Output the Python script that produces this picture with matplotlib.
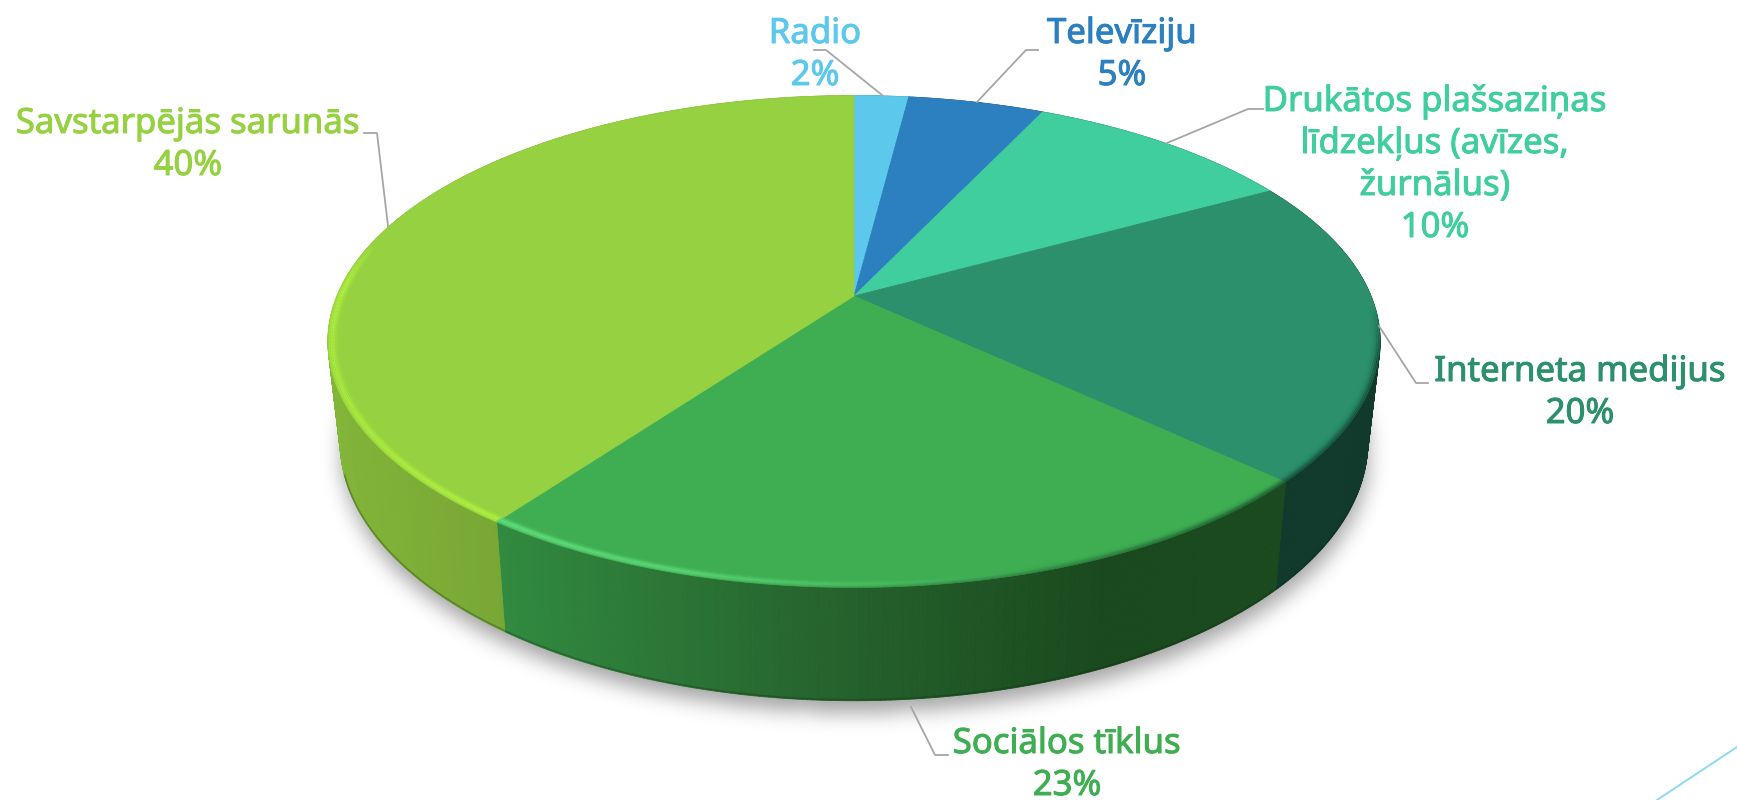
import numpy as np
import matplotlib
matplotlib.use('Agg')
import matplotlib.pyplot as plt
import matplotlib.patheffects as pe
from matplotlib.path import Path
from matplotlib.collections import PolyCollection, LineCollection
from matplotlib.colors import to_rgb

categories = ['Radio', 'Televīziju', 'Drukātos plašsaziņas\nlīdzekļus (avīzes,\nžurnālus)',
              'Interneta medijus', 'Sociālos tīklus', 'Savstarpējās sarunās']
values = [2, 5, 10, 20, 23, 40]
colors = ['#5BC8EC', '#2C80BF', '#40CE9E', '#2B906B', '#3FAE52', '#96D141']

# side shading: x pixel -> colour, left to right
side_x = [[0, 1737], [0, 1737], [0, 1737], [0, 1737], [499, 800, 1100, 1283], [340, 507]]
side_c = [['#3a8aa0', '#3a8aa0'], ['#1a5080', '#1a5080'], ['#1a6a50', '#1a6a50'], ['#113A2C', '#113A2C'],
          ['#318B40', '#27662F', '#1A491D', '#1C4A1F'], ['#82B538', '#78A735']]

label_x = [815, 1122, 1435, 1580, 1067, 188]
label_y = [43, 43, 111, 381, 753, 133]
leaders = [[(814, 50), (826, 50), (882, 95)],
           [(1038, 50), (1026, 50), (977, 102)],
           [(1263, 109), (1248, 109), (1167, 143)],
           [(1379, 326), (1416, 383), (1428, 383)],
           [(911, 707), (935, 755), (948, 755)],
           [(364, 133), (377, 133), (388, 226)]]

# pie projection, in pixels
cx, cy = 854, 296
a, b, p = 517, 237.5, 0.185
a2, b2, cy2 = 505, 250, 394


def top(theta, r=1.0):
    u, v = r * np.sin(theta), r * np.cos(theta)
    d = 1 + p * v
    return cx + a * u / d, cy - b * v / d


def low(theta):
    u, v = np.sin(theta), np.cos(theta)
    d = 1 + p * v
    return cx + a2 * u / d, cy2 - b2 * v / d


fig = plt.figure(figsize=(17.37, 8), dpi=100)
ax = fig.add_axes([0, 0, 1, 1])
ax.set_xlim(0, 1737)
ax.set_ylim(800, 0)
ax.axis('off')

# shadow under the pie
t = np.linspace(0, 2 * np.pi, 400)
lx, ly = low(t)
step = 3
gx, gy = np.meshgrid(np.arange(0, 1737, step), np.arange(0, 800, step))
mask = Path(np.c_[lx, ly + 11]).contains_points(np.c_[gx.ravel(), gy.ravel()]).reshape(gx.shape).astype(float)
kx = np.arange(-15, 16)
kern = np.exp(-(kx * step) ** 2 / (2 * 10.0 ** 2))
kern /= kern.sum()
mask = np.apply_along_axis(lambda m: np.convolve(m, kern, mode='same'), 0, mask)
mask = np.apply_along_axis(lambda m: np.convolve(m, kern, mode='same'), 1, mask)
rgba = np.zeros(mask.shape + (4,))
rgba[..., 3] = mask * 0.36
ax.imshow(rgba, extent=(0, 1737, 800, 0), interpolation='bilinear', zorder=1, aspect='auto')
ax.set_xlim(0, 1737)
ax.set_ylim(800, 0)

edges = np.cumsum([0] + values) / 100 * 2 * np.pi

# sides
for i in range(len(values)):
    th = np.linspace(edges[i], edges[i + 1], max(int(values[i] * 8), 4))
    tx, ty = top(th)
    bx, by = low(th)
    polys, fc = [], []
    rgb = np.array([to_rgb(c) for c in side_c[i]])
    for k in range(len(th) - 1):
        polys.append([(tx[k], ty[k]), (tx[k + 1], ty[k + 1]), (bx[k + 1], by[k + 1]), (bx[k], by[k])])
        xm = (bx[k] + bx[k + 1]) / 2
        fc.append([np.interp(xm, side_x[i], rgb[:, j]) for j in range(3)])
    ax.add_collection(PolyCollection(polys, facecolors=fc, edgecolors=fc, linewidths=0.6, zorder=2))

# dark bottom edge of the side
th = np.linspace(np.pi * 0.62, np.pi * 1.4, 200)
bx, by = low(th)
ax.plot(bx, by - 1, color='#0c2a12', alpha=0.3, lw=1.2, zorder=3)

# top faces
for i in range(len(values)):
    th = np.linspace(edges[i], edges[i + 1], max(int(values[i] * 8), 4))
    tx, ty = top(th)
    ax.fill(np.r_[cx, tx], np.r_[cy, ty], color=colors[i], lw=0.5, zorder=4)

# bevel on the rim: soft bright band, dark on the right
deg = np.linspace(90, 290, 600)
th = np.radians(deg)
hi = np.where(deg < 216, '#62E07E', '#B2F43F')
strength = np.interp(deg, [160, 195, 216, 216.01, 255, 272, 284], [0, 0.7, 1, 0.9, 0.8, 1, 0])
dark = np.interp(deg, [92, 105, 135, 160, 195], [0, 0.75, 0.6, 0.25, 0])
for r in np.arange(0.976, 1.001, 0.003):
    x, y = top(th, r)
    segs = [[(x[k], y[k]), (x[k + 1], y[k + 1])] for k in range(len(x) - 1)]
    w = np.exp(-((r - 0.992) / 0.005) ** 2 / 2)
    rc = [(*to_rgb(hi[k]), float(strength[k] * w)) for k in range(len(x) - 1)]
    ax.add_collection(LineCollection(segs, colors=rc, linewidths=1.0, zorder=5))
    w = np.exp(-((r - 1.0) / 0.006) ** 2 / 2)
    dc = [(0.03, 0.16, 0.12, float(dark[k] * w)) for k in range(len(x) - 1)]
    ax.add_collection(LineCollection(segs, colors=dc, linewidths=1.0, zorder=5))

# leader lines
for pts in leaders:
    ax.plot([q[0] for q in pts], [q[1] for q in pts], color='#A6A6A6', lw=1.3, zorder=6)

# labels, Noto Sans only comes in regular so thicken with a stroke
for i in range(len(values)):
    lines = categories[i].split('\n') + [f'{values[i]}%']
    for n, line in enumerate(lines):
        ax.text(label_x[i], label_y[i] + n * 42, line, color=colors[i], family='Noto Sans',
                fontsize=25, ha='center', va='baseline', zorder=7,
                path_effects=[pe.withStroke(linewidth=0.7, foreground=colors[i])])

# slide decoration in the corner
ax.plot([1657, 1737], [800, 747], color='#8ED8F0', lw=1.4, zorder=1)

fig.savefig('out.png', dpi=100)
